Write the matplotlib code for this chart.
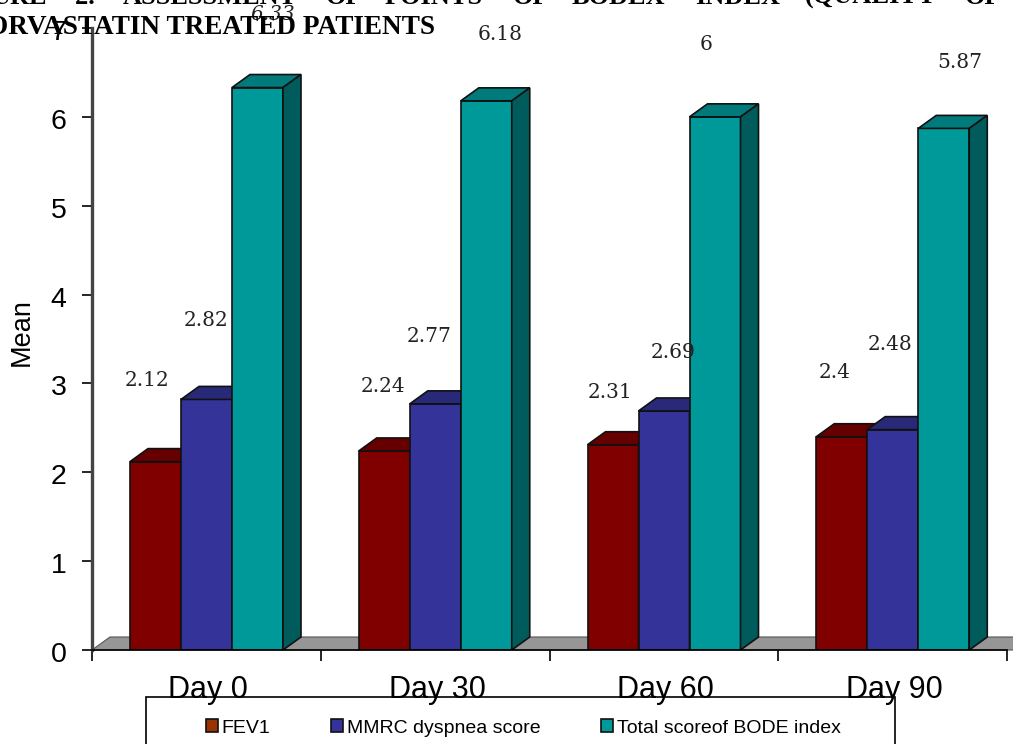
import matplotlib
matplotlib.use("Agg")
import matplotlib.pyplot as plt
from matplotlib.patches import Polygon, Rectangle
from matplotlib.transforms import ScaledTranslation

W, H = 1013, 744

days = ["Day 0", "Day 30", "Day 60", "Day 90"]
fev1 = [2.12, 2.24, 2.31, 2.40]
mmrc = [2.82, 2.77, 2.69, 2.48]
bode = [6.33, 6.18, 6.00, 5.87]
series_names = ["FEV1", "MMRC dyspnea score", "Total scoreof BODE index"]

front = ["#800000", "#333399", "#009999"]
top = ["#660000", "#29297a", "#007a7a"]
side = ["#4d0000", "#1f1f5c", "#005c5c"]
legend_cols = ["#993300", "#333399", "#009999"]

# posicao dos rotulos em pixels (estao soltos no original)
lab_fev1 = [(147, 380), (383, 387), (610, 393), (835, 372)]
lab_mmrc = [(206, 321), (429, 336), (673, 352), (890, 345)]
lab_bode = [(273, 15), (500, 34), (706, 44), (960, 62)]
lab_txt = [["2.12", "2.24", "2.31", "2.4"],
           ["2.82", "2.77", "2.69", "2.48"],
           ["6.33", "6.18", "6", "5.87"]]

# palavras do titulo, justificadas
head1 = [("URE", -9), ("2:", 75), ("ASSESSMENT", 123), ("OF", 326), ("POINTS", 385),
         ("OF", 513), ("BODEX", 572), ("INDEX", 695), ("(QUALITY", 805), ("OF", 965)]
head2 = "ORVASTATIN TREATED PATIENTS"

fig = plt.figure(figsize=(W/100, H/100), dpi=100)
ax = fig.add_axes([92/W, 1 - 650/H, (1007 - 92)/W, (650 - 28)/H])
ax.set_xlim(0, 4)
ax.set_ylim(0, 7)

# profundidade 3D em unidades dos dados
px_x = 4/(1007 - 92)
px_y = 7/(650 - 28)
dx = 18*px_x
dy = 13*px_y
bw = 51*px_x
start = (130 - 92)*px_x

# piso
ax.add_patch(Polygon([(0, 0), (dx, dy), (4 + 2*dx, dy), (4 + dx, 0)], closed=True,
                     fc="#969696", ec="#555555", lw=0.8, zorder=1, clip_on=False))

groups = [fev1, mmrc, bode]
for k, vals in enumerate(groups):
    x = [i + start + k*bw for i in range(4)]
    ax.bar(x, vals, width=bw, align="edge", color=front[k], edgecolor="#111111",
           linewidth=1.2, zorder=3 + k)
    for x0, v in zip(x, vals):
        ax.add_patch(Polygon([(x0, v), (x0 + dx, v + dy), (x0 + bw + dx, v + dy), (x0 + bw, v)],
                             closed=True, fc=top[k], ec="#111111", lw=1.2, zorder=3 + k))
        ax.add_patch(Polygon([(x0 + bw, 0), (x0 + bw + dx, dy), (x0 + bw + dx, v + dy), (x0 + bw, v)],
                             closed=True, fc=side[k], ec="#111111", lw=1.2, zorder=3 + k))

for s in ["top", "right"]:
    ax.spines[s].set_visible(False)
ax.spines["left"].set_color("#444444")
ax.spines["left"].set_linewidth(2.4)
ax.spines["bottom"].set_linewidth(1.2)
ax.spines["bottom"].set_zorder(8)

ax.set_yticks(range(8))
ax.tick_params(axis="y", length=7, width=1.2, labelsize=20.5, pad=11.5)
ax.set_xticks(range(5))
ax.set_xticklabels([])
ax.tick_params(axis="x", length=8, width=1.2)
shift = ScaledTranslation(0, -2/100, fig.dpi_scale_trans)
for lbl in ax.get_yticklabels():
    lbl.set_family("Liberation Sans")
    lbl.set_transform(lbl.get_transform() + shift)

for i, d in enumerate(days):
    ax.text(i + 0.5 + 2*px_x, -48*px_y, d, ha="center", va="baseline", fontsize=22,
            family="Liberation Sans", zorder=9, clip_on=False)
fig.text(22/W, 1 - 332/H, "Mean", rotation=90, ha="center", va="center", fontsize=19.5,
         family="Liberation Sans")

# rotulos de valor
for pos, txt in zip([lab_fev1, lab_mmrc, lab_bode], lab_txt):
    for (xp, yp), t in zip(pos, txt):
        fig.text(xp/W, 1 - yp/H, t, ha="center", va="center", fontsize=14.5,
                 family="DejaVu Serif", color="#222222", zorder=1,
                 style="italic" if t == "6.33" else "normal")

# cabecalho cortado pela borda da figura
for word, xp in head1:
    fig.text(xp/W, 1 - 4/H, word, ha="left", va="baseline", fontsize=19,
             family="Liberation Serif", weight="bold")
fig.text(-13/W, 1 - 34/H, head2, ha="left", va="baseline", fontsize=19.6,
         family="Liberation Serif", weight="bold")

# caixa da legenda, passa da borda inferior
fig.add_artist(Rectangle((146/W, -0.05), (895 - 146)/W, 0.05 + 1 - 697/H, transform=fig.transFigure,
                         fc="none", ec="black", lw=1.2))
handles = [Rectangle((0, 0), 1, 1, fc=c, ec="#111111", lw=1.2) for c in legend_cols]
fig.legend(handles, series_names, loc="center left", bbox_to_anchor=(198/W, 1 - 728/H), ncols=3,
           frameon=False, handlelength=0.62, handleheight=0.62, handletextpad=0.2, columnspacing=3.1,
           prop={"family": "Liberation Sans", "size": 14}, borderaxespad=0)

fig.savefig("out.png", dpi=100)
